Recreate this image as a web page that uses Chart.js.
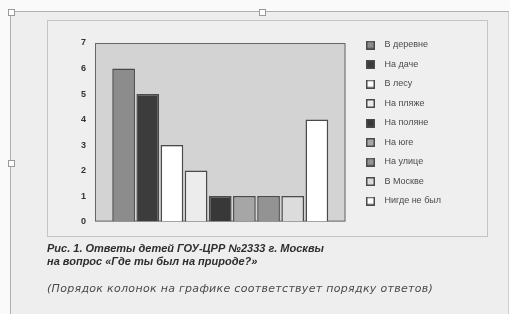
<!DOCTYPE html>
<html>
<head>
<meta charset="utf-8">
<script src="https://cdn.jsdelivr.net/npm/chart.js@4/dist/chart.umd.min.js"></script>
<style>
    body { margin: 0; width: 510px; height: 314px; background: #fafafa; position: relative; overflow: hidden; }
    .frame { position: absolute; left: 10px; top: 11px; width: 497px; height: 320px; background: #eeeeee;
             border-left: 1px solid #b0b0b0; border-top: 1px solid #b0b0b0; border-right: 1px solid #d0d0d0; }
    .handle { position: absolute; width: 5px; height: 5px; background: #fff; border: 1px solid #999; }
    .box { position: absolute; left: 48px; top: 21px; width: 439px; height: 215px; background: #efefef; }
    .box-border { position: absolute; left: 47px; top: 20px; width: 439px; height: 215px; border: 1px solid #c4c4c4; pointer-events: none; }
    #chart { position: absolute; left: 48px; top: 21px; }
    .cap { position: absolute; left: 47px; font-style: italic; white-space: nowrap; }
    .cap1 { top: 242px; font-family: "Liberation Sans", sans-serif; font-size: 11px; font-weight: bold; line-height: 12.5px; color: #2e2e2e; }
    .cap2 { top: 283px; font-family: "DejaVu Sans", sans-serif; font-size: 11px; letter-spacing: 0.3px; line-height: 12px; color: #4a4a4a; }
</style>
</head>
<body>
<div class="frame"></div>
<div class="handle" style="left:8px; top:9px;"></div>
<div class="handle" style="left:259px; top:9px;"></div>
<div class="handle" style="left:8px; top:160px;"></div>
<div class="box"></div>
<canvas id="chart" width="439" height="215"></canvas>
<div class="box-border"></div>
<div class="cap cap1">Рис. 1. Ответы детей ГОУ-ЦРР №2333 г. Москвы<br>на вопрос «Где ты был на природе?»</div>
<div class="cap cap2">(Порядок колонок на графике соответствует порядку ответов)</div>

<script>
const answers = ['В деревне', 'На даче', 'В лесу', 'На пляже', 'На поляне', 'На юге', 'На улице', 'В Москве', 'Нигде не был'];
const counts = [6, 5, 3, 2, 1, 1, 1, 1, 4];
const yTicks = [0, 1, 2, 3, 4, 5, 6, 7];
const barColors = ['#8c8c8c', '#3c3c3c', '#ffffff', '#ececec', '#383838', '#a6a6a6', '#939393', '#dcdcdc', '#ffffff'];

function makeIcon(color) {
    const c = document.createElement('canvas');
    c.width = 9;
    c.height = 9;
    const g = c.getContext('2d');
    g.fillStyle = color;
    g.fillRect(0, 0, 9, 9);
    g.strokeStyle = '#4a4a4a';
    g.lineWidth = 1.5;
    g.strokeRect(0.75, 0.75, 7.5, 7.5);
    return c;
}

// grey plot area with a dark frame
const plotBackground = {
    id: 'plotBackground',
    beforeDraw(chart) {
        const {ctx, chartArea: a} = chart;
        ctx.save();
        ctx.fillStyle = '#d3d3d3';
        ctx.fillRect(a.left, a.top, a.width, a.height);
        ctx.strokeStyle = '#666';
        ctx.lineWidth = 1;
        ctx.strokeRect(a.left + 0.5, a.top + 0.5, a.width - 1, a.height - 1);
        ctx.restore();
    }
};

const datasets = answers.map(function(name, i) {
    return {
        label: name,
        data: [counts[i]],
        backgroundColor: barColors[i],
        borderColor: '#4a4a4a',
        borderWidth: 1.5,
        xAxisID: 'x',
        yAxisID: 'y'
    };
});

const ctx = document.getElementById('chart').getContext('2d');
new Chart(ctx, {
    type: 'bar',
    data: { labels: [''], datasets: datasets },
    options: {
        responsive: false,
        animation: false,
        categoryPercentage: 0.868,
        barPercentage: 0.94,
        layout: { padding: { left: 28, right: 36, top: 3, bottom: 14 } },
        plugins: {
            tooltip: { enabled: false },
            legend: {
                position: 'right',
                align: 'center',
                maxWidth: 140,
                labels: {
                    usePointStyle: true,
                    pointStyleWidth: 19,
                    boxHeight: 8,
                    padding: 10.5,
                    color: '#4a4a4a',
                    font: { family: 'Liberation Sans', size: 9 },
                    generateLabels: function(chart) {
                        const items = Chart.defaults.plugins.legend.labels.generateLabels(chart);
                        items.forEach(function(item, i) { item.pointStyle = makeIcon(barColors[i]); });
                        return items;
                    }
                }
            }
        },
        scales: {
            x: { display: false, offset: true },
            x2: {
                type: 'linear', position: 'top', display: true,
                ticks: { display: false }, grid: { display: false }, border: { display: false },
                afterFit: function(s) { s.height = 19; }
            },
            y: {
                min: yTicks[0], max: yTicks[yTicks.length - 1],
                ticks: {
                    stepSize: 1,
                    color: '#333',
                    padding: 9,
                    font: { family: 'Liberation Sans', size: 9, weight: 'bold' },
                    callback: function(v) { return yTicks.indexOf(v) >= 0 ? String(v) : ''; }
                },
                grid: { display: false, drawTicks: false },
                border: { display: false },
                afterFit: function(s) { s.width = 19; }
            },
            y2: {
                type: 'linear', position: 'right', display: true,
                ticks: { display: false }, grid: { display: false }, border: { display: false },
                afterFit: function(s) { s.width = 5; }
            }
        }
    },
    plugins: [plotBackground]
});
</script>
</body>
</html>
